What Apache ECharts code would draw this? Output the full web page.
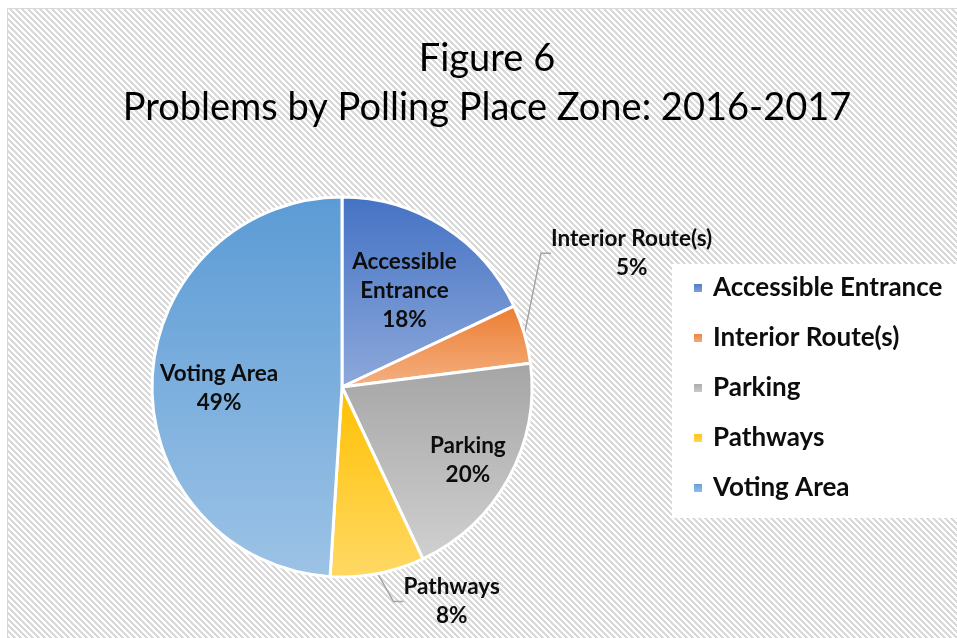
<!DOCTYPE html>
<html>
<head>
<meta charset="utf-8">
<script src="https://cdn.jsdelivr.net/npm/echarts@6/dist/echarts.min.js"></script>
<style>
  html, body { margin: 0; padding: 0; background: #fff; }
  #chart { width: 957px; height: 638px; }
</style>
</head>
<body>
<div id="chart"></div>
<script>
const titleText = 'Figure 6\nProblems by Polling Place Zone: 2016-2017';
const zones = ['Accessible Entrance', 'Interior Route(s)', 'Parking', 'Pathways', 'Voting Area'];
const shares = [18, 5, 20, 8, 49];
const labelInside = [true, false, true, false, true];

// gradient of each slice, top -> bottom
const topColors = ['#4472C4', '#ED7D31', '#A5A5A5', '#FFC000', '#5B9BD5'];
const bottomColors = ['#8EA9DB', '#F4B183', '#D0D0D0', '#FFD966', '#9DC3E6'];
// nudge of each label from where echarts puts it
const labelShift = [[10, -14], [2, -78], [40, 26], [9, 18], [-25, 4]];

const font = 'Lato, "DejaVu Sans", sans-serif';

// diagonal hatch like the excel chart area fill
function hatch() {
  const c = document.createElement('canvas');
  c.width = 6; c.height = 6;
  const ctx = c.getContext('2d');
  ctx.fillStyle = '#ffffff';
  ctx.fillRect(0, 0, 6, 6);
  ctx.fillStyle = '#d9d9d9';
  for (let x = 0; x < 6; x++) {
    for (let y = 0; y < 6; y++) {
      if (((x - y) % 6 + 6) % 6 < 3) ctx.fillRect(x, y, 1, 1);
    }
  }
  return c;
}

const pieData = zones.map((name, i) => ({
  name: name,
  value: shares[i],
  itemStyle: {
    color: new echarts.graphic.LinearGradient(0, 0, 0, 1, [
      {offset: 0, color: topColors[i]},
      {offset: 1, color: bottomColors[i]}
    ])
  },
  label: {position: labelInside[i] ? 'inside' : 'outside'},
  labelLine: {show: !labelInside[i]}
}));

const chart = echarts.init(document.getElementById('chart'));
chart.setOption({
  backgroundColor: '#ffffff',
  animation: false,
  graphic: [
    {
      type: 'rect', z: -10, silent: true,
      shape: {x: 7.5, y: 8.5, width: 1000, height: 700},
      style: {fill: {image: hatch(), repeat: 'repeat'}, stroke: '#d9d9d9', lineWidth: 1}
    },
    {
      type: 'rect', z: -9, silent: true,
      shape: {x: 672, y: 264, width: 300, height: 254},
      style: {fill: '#ffffff'}
    }
  ],
  title: {
    text: titleText,
    left: 487,
    textAlign: 'center',
    top: 34,
    padding: 0,
    textStyle: {fontFamily: font, fontWeight: 'normal', fontSize: 38, lineHeight: 49, color: '#000'}
  },
  legend: {
    orient: 'vertical',
    left: 687,
    top: 270,
    itemWidth: 10,
    itemHeight: 10,
    itemGap: 24,
    icon: 'rect',
    textStyle: {fontFamily: font, fontWeight: 'bold', fontSize: 26, lineHeight: 26, color: '#0d0d0d', padding: [0, 0, 0, 5]}
  },
  series: [{
    type: 'pie',
    center: [342, 387],
    radius: 190,
    startAngle: 90,
    clockwise: true,
    data: pieData,
    itemStyle: {borderColor: '#ffffff', borderWidth: 3},
    label: {
      fontFamily: font,
      fontWeight: 'bold',
      fontSize: 22.5,
      lineHeight: 29,
      color: '#0d0d0d',
      formatter: p => (p.name === 'Accessible Entrance' ? 'Accessible\nEntrance' : p.name) + '\n' + Math.round(p.percent) + '%'
    },
    labelLine: {length: 10, length2: 10, lineStyle: {color: '#a6a6a6', width: 1.5}, smooth: false},
    labelLayout: function (p) {
      const r = p.labelRect;
      const s = labelShift[p.dataIndex];
      return {
        x: r.x + r.width / 2 + s[0],
        y: r.y + r.height / 2 + s[1],
        align: 'center',
        verticalAlign: 'middle'
      };
    }
  }]
});
</script>
</body>
</html>
